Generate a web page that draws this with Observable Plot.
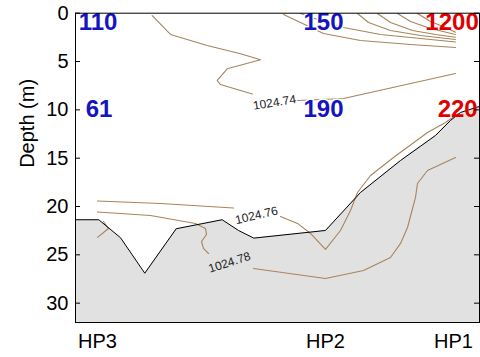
<!DOCTYPE html>
<html><head><meta charset="utf-8">
<script src="https://cdn.jsdelivr.net/npm/d3@7"></script>
<script src="https://cdn.jsdelivr.net/npm/@observablehq/plot@0.6"></script>
<style>body{margin:0;background:#fff;} #chart{width:480px;height:357px;}</style>
</head><body><div id="chart"></div>
<script>
// Distance along transect (0–100, arbitrary units) and depth (m)
const stationNames = ["HP3", "HP2", "HP1"];
const stationDist = [5.45, 61.88, 93.56];
const yTickValues = [0, 5, 10, 15, 20, 25, 30];
const depthMax = 32;

// Bottom (bathymetry) profile: [distance, depth]
const bathymetry = [[0,21.37],[5.77,21.37],[11.14,23.23],[17.15,26.90],[24.93,22.30],[36.31,21.37],[40.35,22.48],[44.13,23.27],[61.88,22.48],[70.54,18.55],[80.45,15.24],[89.11,12.65],[92.82,11.10],[95.30,10.27],[100,9.65]];

// Density contours (segments, split where labels sit)
const contourA1 = [[18.99,0.24],[23.51,2.20],[32.60,3.34],[40.84,4.20],[45.79,4.82],[37.55,5.75],[35.07,6.96],[35.89,7.38],[40.84,7.99],[43.81,8.36]];
const contourA2 = [[54.95,9.03],[66.34,8.82],[94.06,6.24]];
const contourT1 = [[51.49,0.13],[55.69,0.96],[61.39,2.10],[70.54,2.82],[82.92,3.24],[94.06,3.55]];
const contourT2 = [[55.69,0.03],[60.64,0.76],[66.34,1.48],[75.50,2.20],[85.40,2.62],[94.06,2.98]];
const contourT3 = [[69.80,0.03],[72.52,0.96],[77.97,1.79],[85.40,2.31],[94.06,2.72]];
const contourT4 = [[74.75,0.03],[77.97,0.96],[83.42,1.79],[89.11,2.20],[94.06,2.48]];
const contourT5 = [[79.70,0.03],[82.92,0.86],[87.87,1.58],[94.06,2.20]];
const contourT6 = [[84.65,0.03],[87.87,0.86],[91.58,1.48],[94.06,1.97]];
const contourB1 = [[5.45,19.43],[21.04,19.69],[39.11,20.15]];
const contourB2 = [[50.74,21.03],[54.95,21.75],[58.17,22.79],[61.88,24.44],[65.59,22.48],[68.07,20.41],[69.80,18.55],[73.02,16.79],[78.71,14.93],[87.13,12.34],[91.58,11.31],[94.80,10.38]];
const contourC = [[5.45,20.56],[18.56,20.93],[29.70,21.75],[32.18,22.27],[32.43,22.89],[31.19,23.62],[31.68,24.34],[32.92,24.86]];
const contourD = [[6.93,21.55],[8.17,22.27],[5.45,23.20]];
const contourE = [[44.06,26.41],[61.88,27.44],[71.29,26.62],[77.97,25.27],[80.45,23.82],[82.18,22.17],[84.16,19.06],[84.65,17.62],[87.13,16.27],[94.06,14.93]];

// Contour labels
const contourLabelText = ["1024.74", "1024.76", "1024.78"];
const contourLabelX = [49.26, 44.80, 38.12];
const contourLabelY = [9.25, 20.93, 25.79];
const contourLabelAngle = [-9, -13, -18];

// Station values
const stationValueText = ["110", "61", "150", "190", "1200", "220"];
const stationValueX = [5.57, 5.82, 61.39, 61.39, 93.2, 94.6];
const stationValueY = [0.96, 9.91, 0.96, 9.91, 0.96, 9.91];
const stationValueGroup = ["blue", "blue", "blue", "blue", "red", "red"];

const segments = {A1: contourA1, A2: contourA2, T1: contourT1, T2: contourT2, T3: contourT3, T4: contourT4, T5: contourT5, T6: contourT6, B1: contourB1, B2: contourB2, C: contourC, D: contourD, E: contourE};
const contourRows = Object.entries(segments).flatMap(([id, pts]) => pts.map(([d, z]) => ({id, d, z})));
const bathyRows = bathymetry.map(([d, z]) => ({d, z}));
const clabels = contourLabelText.map((t, i) => ({t, d: contourLabelX[i], z: contourLabelY[i], a: contourLabelAngle[i]}));
const svals = stationValueText.map((t, i) => ({t, d: stationValueX[i], z: stationValueY[i], g: stationValueGroup[i]}));
const nameAt = new Map(stationDist.map((d, i) => [d, stationNames[i]]));
const colorOf = {blue: "#1414c0", red: "#e00000"};

const font = "'Liberation Sans', Arial, Helvetica, sans-serif";
const chart = Plot.plot({
  width: 480, height: 357,
  marginLeft: 75, marginRight: 1, marginTop: 12.7, marginBottom: 35,
  style: {fontFamily: font, fontSize: "20px", background: "white", color: "black", overflow: "visible"},
  x: {domain: [0, 100]},
  y: {domain: [0, depthMax], reverse: true},
  marks: [
    Plot.areaY(bathyRows, {x: "d", y1: "z", y2: () => depthMax, fill: "#e1e1e1"}),
    Plot.line(contourRows, {x: "d", y: "z", z: "id", stroke: "#a8845c", strokeWidth: 1.1}),
    Plot.line(bathyRows, {x: "d", y: "z", stroke: "black", strokeWidth: 1}),
    Plot.text(clabels, {x: "d", y: "z", text: "t", rotate: "a", fontSize: 12, fill: "#222", fontFamily: font}),
    Plot.text(svals.filter(s => s.g === "blue"), {x: "d", y: "z", text: "t", fill: colorOf.blue, fontWeight: "bold", fontSize: 24, stroke: "white", strokeWidth: 3, paintOrder: "stroke", fontFamily: font}),
    Plot.text(svals.filter(s => s.g === "red"), {x: "d", y: "z", text: "t", fill: colorOf.red, fontWeight: "bold", fontSize: 24, fontFamily: font}),
    Plot.frame({stroke: "black", strokeWidth: 1}),
    Plot.tickY(yTickValues, {y: d => d, insetRight: 399, stroke: "black"}),
    Plot.tickY(yTickValues, {y: d => d, insetLeft: 399, stroke: "black"}),
    Plot.axisY(yTickValues, {tickSize: 0, tickPadding: 7, fontSize: 20, label: null}),
    Plot.axisX(stationDist, {tickSize: 0, tickPadding: 11, fontSize: 20, label: null, tickFormat: d => nameAt.get(d)}),
    Plot.text(["Depth (m)"], {frameAnchor: "left", dx: -48, rotate: -90, fontSize: 20, fill: "black", fontFamily: font})
  ]
});
document.getElementById("chart").appendChild(chart);
</script></body></html>
